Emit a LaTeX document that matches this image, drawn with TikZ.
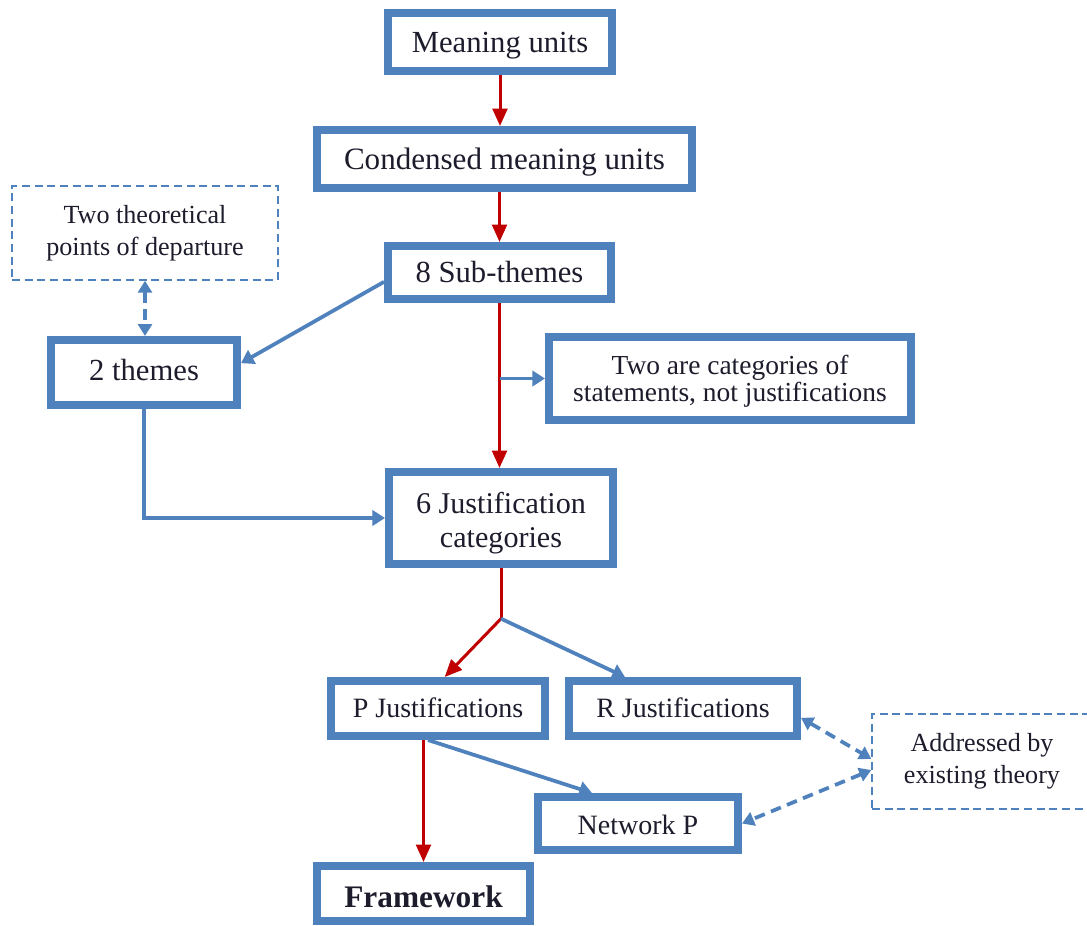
\documentclass[tikz,border=0pt]{standalone}
\usepackage{fontspec}
\setmainfont{Liberation Serif}
\usetikzlibrary{arrows.meta}
\definecolor{bbox}{HTML}{4F81BD}
\definecolor{rline}{HTML}{C00000}
\definecolor{txt}{HTML}{1C1C2C}
\newcommand{\mydown}[2]{\raisebox{-#1}[\height][\depth]{#2}}
\begin{document}
\begin{tikzpicture}[x=0.75pt,y=-0.75pt,
  box/.style={draw=bbox, line width=6pt, fill=white, inner sep=0pt, align=center, text=txt},
  dbox/.style={draw=bbox, line width=1.1pt, dash pattern=on 6pt off 3.5pt, inner sep=0pt, align=center, text=txt},
  redarrow/.style={draw=rline, line width=2.25pt, -{Triangle[length=13pt,width=11pt]}},
  redline/.style={draw=rline, line width=2.25pt},
  bluearrow/.style={draw=bbox, line width=2.8pt, -{Triangle[length=9.5pt,width=11.5pt]}},
  dblarrow/.style={draw=bbox, line width=2.8pt, dash pattern=on 8pt off 5pt,
     {Triangle[length=9pt,width=10.5pt]}-{Triangle[length=9pt,width=10.5pt]}},
  bigtext/.style={font=\fontsize{23}{25.5}\selectfont, text height=15.2pt, text depth=0pt},
  midtext/.style={font=\fontsize{21}{24}\selectfont, text height=13.9pt, text depth=0pt},
  smalltext/.style={font=\fontsize{19.6}{24}\selectfont}
]
\clip (0,0) rectangle (1087,925);

% solid boxes
\node[box, bigtext, minimum width=168pt, minimum height=43.5pt] (mu) at (500,42) {Meaning units};
\node[box, bigtext, font=\fontsize{23.3}{25.5}\selectfont, minimum width=281.25pt, minimum height=43.5pt] (cmu) at (504.5,159) {Condensed meaning units};
\node[box, bigtext, minimum width=167.25pt, minimum height=39.75pt] (sub) at (499.5,272.5) {8 Sub-themes};
\node[box, bigtext, minimum width=139.5pt, minimum height=48.75pt] (themes) at (144,372.5) {\mydown{-1.9pt}{2 themes}};
\node[box, font=\fontsize{20.6}{20.5}\selectfont, minimum width=271.5pt, minimum height=62.25pt] (two) at (730,378.5) {\mydown{2.25pt}{Two are categories of}\\\mydown{2.25pt}{statements, not justifications}};
\node[box, font=\fontsize{22.6}{25.5}\selectfont, minimum width=168pt, minimum height=69pt] (just6) at (501,518) {\mydown{3.75pt}{6 Justification}\\\mydown{3.75pt}{categories}};
\node[box, midtext, minimum width=160.5pt, minimum height=41.25pt] (pj) at (438,708.5) {P Justifications};
\node[box, midtext, minimum width=171pt, minimum height=41.25pt] (rj) at (683,708.5) {R Justifications};
\node[box, midtext, minimum width=150pt, minimum height=39.75pt] (netp) at (638,823.5) {\mydown{1pt}{Network P}};
\node[box, font=\fontsize{23.5}{25}\selectfont\bfseries, text height=15.9pt, text depth=0pt, minimum width=159.75pt, minimum height=41.25pt] (fw) at (423.5,893.5) {\mydown{2.6pt}{Framework}};

% dashed boxes
\node[dbox, smalltext, minimum width=199.5pt, minimum height=70.5pt] (theo) at (145,233) {Two theoretical\\points of departure};
\node[dbox, smalltext, minimum width=165pt, minimum height=71.25pt] (addr) at (982,761.5) {Addressed by\\existing theory};

% connectors
\draw[redarrow] (mu.south) -- (mu.south |- cmu.north);
\draw[redarrow] (sub.north |- cmu.south) -- (sub.north);
\draw[redarrow] (sub.south) -- (sub.south |- just6.north);
\coordinate (br) at (sub.south |- two.west);
\draw[bluearrow] (br) -- (two.west);
\draw[bluearrow] ([yshift=-7pt]sub.west) -- ([yshift=7pt]themes.east);
\draw[bluearrow] (themes.south) |- (just6.west);
\draw[dblarrow] (theo.south) -- (theo.south |- themes.north);
\coordinate (sp) at ([yshift=-38pt]just6.south);
\draw[redline] (just6.south) -- (sp);
\draw[redarrow] (sp) -- ([xshift=5pt]pj.north);
\draw[bluearrow] (sp) -- ([xshift=-43.5pt]rj.north);
\draw[redarrow] (fw.north |- pj.south) -- (fw.north);
\draw[bluearrow] ([xshift=-7.5pt]pj.south) -- ([xshift=-34.5pt]netp.north);
\draw[dblarrow] ([yshift=-7pt]rj.east) -- ([yshift=2pt]addr.west);
\draw[dblarrow] ([yshift=-6.4pt]addr.west) -- (netp.east);
\end{tikzpicture}
\end{document}
